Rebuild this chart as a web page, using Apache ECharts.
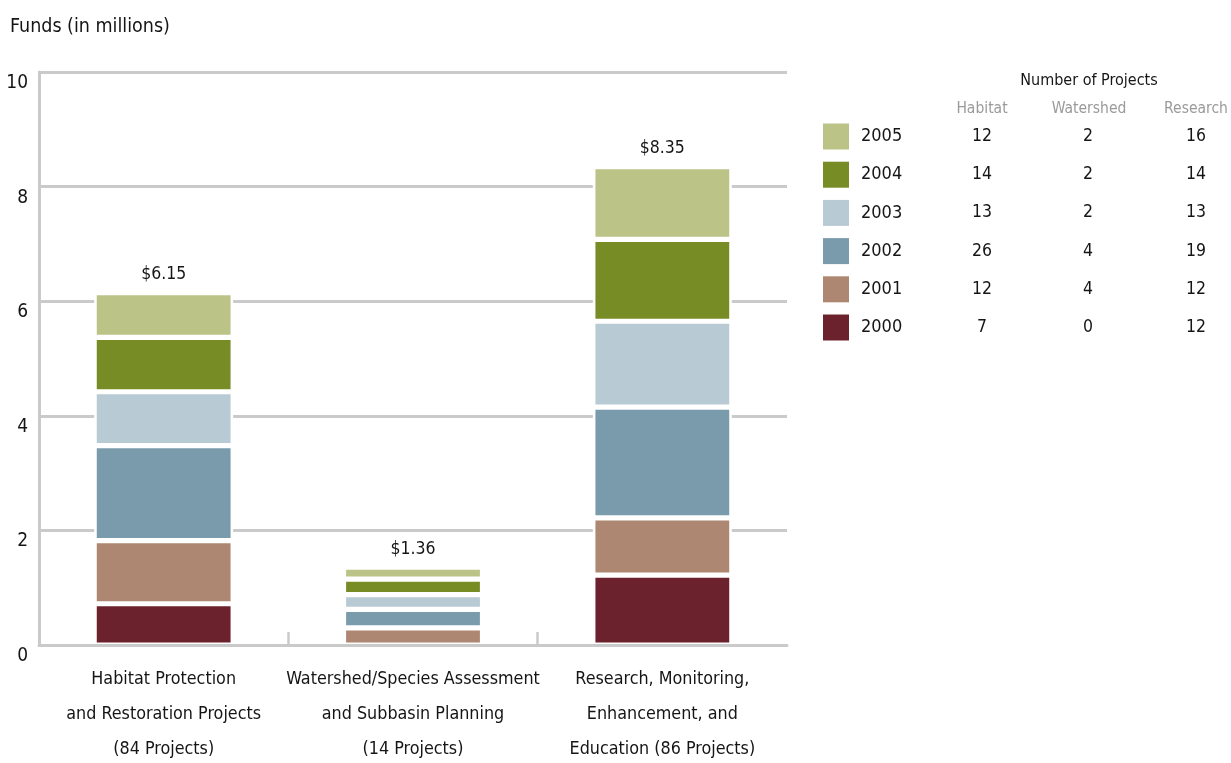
<!DOCTYPE html>
<html>
<head>
<meta charset="utf-8">
<title>Funds by Project Type</title>
<script src="https://cdn.jsdelivr.net/npm/echarts@6/dist/echarts.min.js"></script>
<style>
  html, body { margin: 0; padding: 0; background: #fff; }
  #chart { width: 1231px; height: 763px; }
</style>
</head>
<body>
<div id="chart"></div>
<script>
// Project categories along the x axis
const categories = [
  'Habitat Protection\nand Restoration Projects\n(84 Projects)',
  'Watershed/Species Assessment\nand Subbasin Planning\n(14 Projects)',
  'Research, Monitoring,\nEnhancement, and\nEducation (86 Projects)'
];

const years = ['2000', '2001', '2002', '2003', '2004', '2005'];

// Funds in millions per year, one value per category
const funds2000 = [0.72, 0.00, 1.22];
const funds2001 = [1.10, 0.30, 1.00];
const funds2002 = [1.66, 0.32, 1.93];
const funds2003 = [0.94, 0.26, 1.50];
const funds2004 = [0.95, 0.27, 1.43];
const funds2005 = [0.78, 0.21, 1.27];

// Stack totals shown above the bars
const totals = [6.15, 1.36, 8.35];

// Number of projects per year (2000..2005)
const habitatProjects = [7, 12, 26, 13, 14, 12];
const watershedProjects = [0, 4, 4, 2, 2, 2];
const researchProjects = [12, 12, 19, 13, 14, 16];

const yTicks = [0, 2, 4, 6, 8, 10];
const tableHeaders = ['Habitat', 'Watershed', 'Research'];

const yearColors = ['#6b222d', '#ad8771', '#7a9bac', '#b8cad4', '#788c26', '#bbc387'];
const fundsByYear = [funds2000, funds2001, funds2002, funds2003, funds2004, funds2005];

const FONT = '"DejaVu Sans Condensed", "Liberation Sans Narrow", sans-serif';
const INK = '#151515';
const GRID_GRAY = '#cacaca';

const series = years.map((year, i) => ({
  name: year,
  type: 'bar',
  stack: 'funds',
  barWidth: 139,
  data: fundsByYear[i].map(v => (v === 0 ? '-' : v)),
  itemStyle: { color: yearColors[i], borderColor: '#ffffff', borderWidth: 2.6 },
  label: i === years.length - 1 ? {
    show: true,
    position: 'top',
    distance: 9,
    fontFamily: FONT,
    fontSize: 17.5,
    color: INK,
    formatter: p => '$' + totals[p.dataIndex].toFixed(2)
  } : { show: false },
  emphasis: { disabled: true }
}));

const chart = echarts.init(document.getElementById('chart'), null, { renderer: 'canvas' });

const cellStyle = (width, align, size) => ({
  fontFamily: FONT, fontSize: size, color: INK, width: width, align: align, lineHeight: 26
});

chart.setOption({
  animation: false,
  textStyle: { fontFamily: FONT },
  title: {
    text: 'Funds (in millions)',
    left: 10,
    top: 17,
    padding: 0,
    textStyle: { fontFamily: FONT, fontSize: 19.5, fontWeight: 'normal', color: INK }
  },
  grid: { left: 39, right: 444, top: 72, bottom: 118, outerBoundsMode: 'none', containLabel: false },
  xAxis: [
    {
      type: 'category',
      data: categories,
      position: 'bottom',
      z: 3,
      axisLine: { onZero: false, lineStyle: { color: GRID_GRAY, width: 3 } },
      axisTick: { show: false },
      axisLabel: {
        interval: 0,
        margin: 17,
        fontFamily: FONT,
        fontSize: 17.8,
        lineHeight: 35,
        color: INK
      }
    },
    {
      // category boundaries, used only for the short dividers on the baseline
      type: 'category',
      data: ['', '', '', ''],
      boundaryGap: false,
      position: 'bottom',
      axisLine: { show: false, onZero: false },
      axisLabel: { show: false },
      axisTick: {
        show: true,
        inside: true,
        length: 13,
        interval: (idx) => idx === 1 || idx === 2,
        lineStyle: { color: GRID_GRAY, width: 2.5 }
      },
      splitLine: { show: false }
    }
  ],
  yAxis: {
    type: 'value',
    min: yTicks[0],
    max: yTicks[yTicks.length - 1],
    interval: yTicks[1] - yTicks[0],
    axisLine: { show: true, lineStyle: { color: GRID_GRAY, width: 3 } },
    axisTick: { show: false },
    splitLine: { lineStyle: { color: GRID_GRAY, width: 3 } },
    axisLabel: {
      margin: 11,
      fontFamily: FONT,
      fontSize: 19,
      color: INK,
      verticalAlign: 'top',
      lineHeight: 20,
      padding: [1, 0, 0, 0]
    }
  },
  legend: {
    orient: 'vertical',
    left: 823,
    top: 123.5,
    padding: 0,
    itemWidth: 26,
    itemHeight: 26,
    itemGap: 12.2,
    icon: 'rect',
    selectedMode: false,
    itemStyle: { borderWidth: 0 },
    data: years.slice().reverse(),
    formatter: (name) => {
      const i = years.indexOf(name);
      return '{y|' + name + '}{h|' + habitatProjects[i] + '}{w|' +
        watershedProjects[i] + '}{r|' + researchProjects[i] + '}';
    },
    textStyle: {
      fontFamily: FONT,
      fontSize: 18,
      color: INK,
      lineHeight: 26,
      padding: [0, 0, 0, 7],
      rich: {
        y: cellStyle(100, 'left', 18),
        h: cellStyle(42, 'center', 17.5),
        w: cellStyle(170, 'center', 17.5),
        r: cellStyle(46, 'center', 17.5)
      }
    }
  },
  graphic: [
    {
      type: 'text',
      x: 1089,
      y: 72.5,
      style: {
        text: 'Number of Projects',
        fontFamily: FONT, fontSize: 16, fill: INK, align: 'center'
      }
    }
  ].concat(tableHeaders.map((h, i) => ({
    type: 'text',
    x: [982, 1089, 1196][i],
    y: 101,
    style: {
      text: h,
      fontFamily: FONT, fontSize: 15.5, fill: '#9a9a9a', align: 'center'
    }
  }))),
  series: series
});
</script>
</body>
</html>
